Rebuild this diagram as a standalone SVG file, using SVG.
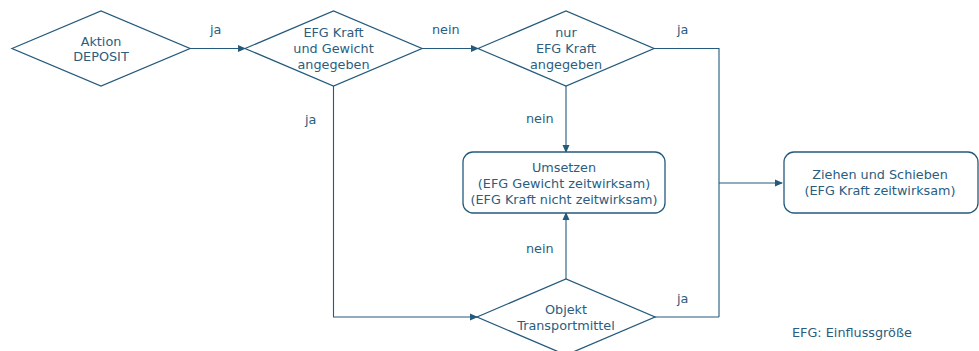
<svg xmlns="http://www.w3.org/2000/svg" width="979" height="351" viewBox="0 0 979 351">
<defs>
<style>
.n{fill:#fff;stroke:#245a7c;stroke-width:1.3}
.c{fill:none;stroke:#245a7c;stroke-width:1.1}
text{font-family:"DejaVu Sans",Verdana,sans-serif;font-size:12.8px;fill:#2a5d80;text-anchor:middle}
.l{text-anchor:start}
</style>
<marker id="a" markerWidth="8" markerHeight="8" refX="7" refY="4" orient="auto" markerUnits="userSpaceOnUse">
<path d="M0,0.5 L8,4 L0,7.5 Z" fill="#245a7c"/>
</marker>
</defs>
<rect width="979" height="351" fill="#fff"/>
<g id="connectors">
<path class="c" d="M190,48.5 H245" marker-end="url(#a)"/>
<path class="c" d="M422,48.5 H478" marker-end="url(#a)"/>
<path class="c" d="M654,48.5 H719 V317"/>
<path class="c" d="M719,183 H782" marker-end="url(#a)"/>
<path class="c" d="M655,317 H719"/>
<path class="c" d="M566,86 V152" marker-end="url(#a)"/>
<path class="c" d="M566,279 V213" marker-end="url(#a)"/>
<path class="c" d="M333.5,86 V317 H477" marker-end="url(#a)"/>
<text class="l" x="210" y="34">ja</text>
<text class="l" x="432" y="34">nein</text>
<text class="l" x="677" y="34">ja</text>
<text class="l" x="305" y="124">ja</text>
<text class="l" x="526" y="123">nein</text>
<text class="l" x="526" y="253">nein</text>
<text class="l" x="677" y="303">ja</text>
</g>
<g id="d1">
<polygon class="n" points="12,48.5 101,11 190,48.5 101,86"/>
<text x="101" y="46">Aktion</text>
<text x="101" y="61">DEPOSIT</text>
</g>
<g id="d2">
<polygon class="n" points="245,48.5 333.5,11 422,48.5 333.5,86"/>
<text x="333.5" y="37">EFG Kraft</text>
<text x="333.5" y="53">und Gewicht</text>
<text x="333.5" y="69">angegeben</text>
</g>
<g id="d3">
<polygon class="n" points="478,48.5 566,11 654,48.5 566,86"/>
<text x="566" y="37">nur</text>
<text x="566" y="53">EFG Kraft</text>
<text x="566" y="69">angegeben</text>
</g>
<g id="b1">
<rect class="n" x="463" y="152" width="202" height="61" rx="10"/>
<text x="564" y="172">Umsetzen</text>
<text x="564" y="188">(EFG Gewicht zeitwirksam)</text>
<text x="564" y="204">(EFG Kraft nicht zeitwirksam)</text>
</g>
<g id="b2">
<rect class="n" x="784" y="152" width="194" height="61" rx="10"/>
<text x="880" y="179">Ziehen und Schieben</text>
<text x="880" y="195">(EFG Kraft zeitwirksam)</text>
</g>
<g id="d4">
<polygon class="n" points="477,317 566,279 655,317 566,355"/>
<text x="566" y="314">Objekt</text>
<text x="566" y="330">Transportmittel</text>
</g>
<text class="l" x="792" y="337">EFG: Einflussgröße</text>
</svg>
